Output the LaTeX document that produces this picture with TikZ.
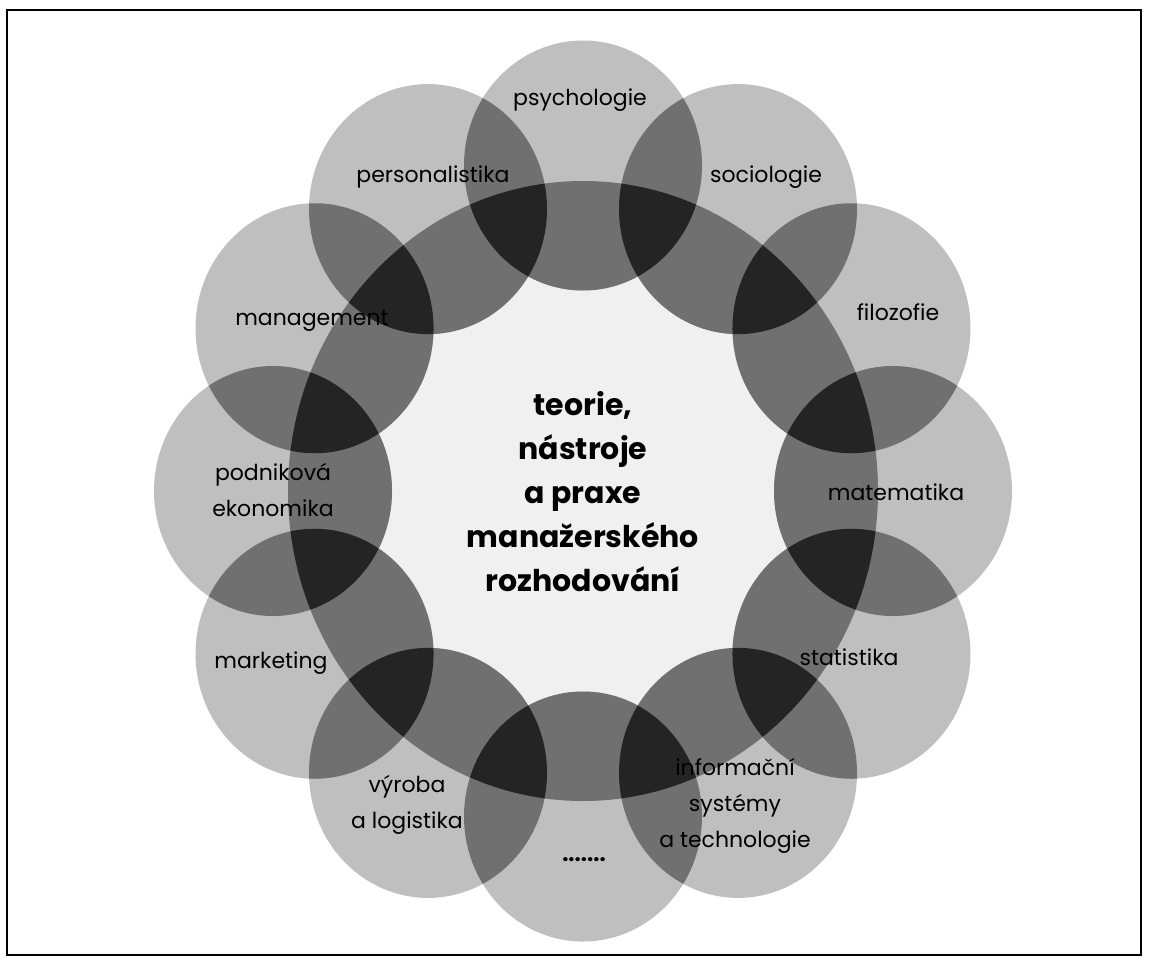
\documentclass[tikz,border=0pt]{standalone}
\usepackage{fontspec}
\setmainfont{Poppins}
\begin{document}
\begin{tikzpicture}[x=1pt,y=-1pt,
  lightfill/.style={fill=black!25},
  midfill/.style={fill=black!56},
  darkfill/.style={fill=black!86},
  diskfill/.style={fill=black!6},
  lbl/.style={font=\fontsize{22}{36}\selectfont, align=center, inner sep=0pt, text=black},
  centertext/.style={font=\fontsize{30}{44}\selectfont\bfseries, align=center, inner sep=0pt}]
\useasboundingbox (0,0) rectangle (1150,964);
\draw[line width=2.5pt] (7,10) rectangle (1141,955);
\coordinate (O) at (583,491);
\def\cpath#1{(c#1) ellipse [x radius=119pt, y radius=125pt]}
\def\dpath{(O) ellipse [x radius=295pt, y radius=310pt]}
\foreach \i in {0,...,11}{
  \coordinate (c\i) at ({583+310*cos(90-30*\i)},{491-325.5*sin(90-30*\i)});
}
% central disk
\fill[diskfill] \dpath;
% light circles
\foreach \i in {0,...,11}{ \fill[lightfill] \cpath{\i}; }
% lenses between neighbours
\foreach \i in {0,...,11}{
  \pgfmathtruncatemacro\j{mod(\i+1,12)}
  \begin{scope}
    \clip \cpath{\i};
    \fill[midfill] \cpath{\j};
  \end{scope}
}
% parts of circles inside the central disk
\begin{scope}
  \clip \dpath;
  \foreach \i in {0,...,11}{ \fill[midfill] \cpath{\i}; }
  \foreach \i in {0,...,11}{
    \pgfmathtruncatemacro\j{mod(\i+1,12)}
    \begin{scope}
      \clip \cpath{\i};
      \fill[darkfill] \cpath{\j};
    \end{scope}
  }
\end{scope}
% labels
\node[lbl] (psy) at (580,100) {psychologie};
\node[lbl] (soc) at (766,177) {sociologie};
\node[lbl] (fil) at (898,312) {filozofie};
\node[lbl] (mat) at (896,492) {matematika};
\node[lbl] (sta) at (849,657) {statistika};
\node[lbl] (inf) at (735,806) {informační\\systémy\\a technologie};
\node[lbl, font=\fontsize{22}{36}\selectfont\bfseries] (dots) at (584,860) {.......};
\node[lbl] (vyr) at (407,805) {výroba\\a logistika};
\node[lbl] (mkt) at (271,663) {marketing};
\node[lbl] (pod) at (273,490) {podniková\\ekonomika};
\node[lbl] (man) at (312,321) {management};
\node[lbl] (per) at (433,177) {personalistika};
\node[centertext] (main) at (583,492) {teorie,\\nástroje\\a praxe\\manažerského\\rozhodování};
\end{tikzpicture}
\end{document}
